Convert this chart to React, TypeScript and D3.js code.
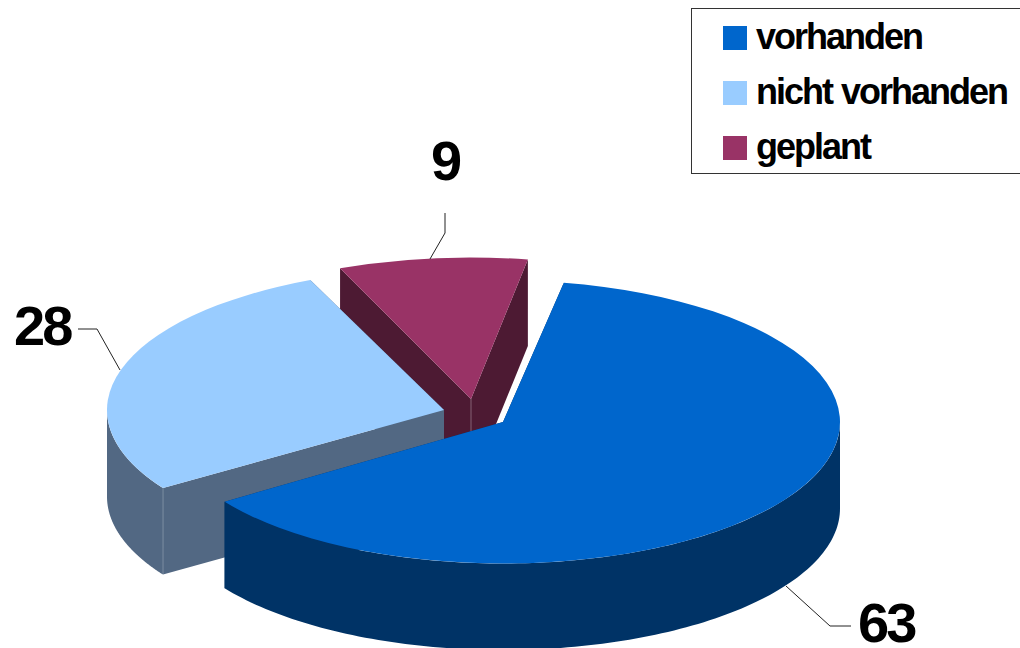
import React, { useEffect, useRef } from 'react';
import * as d3 from 'd3';

const categories = ['vorhanden', 'nicht vorhanden', 'geplant'];
const values = [63, 28, 9];

const topColors = ['#0066cc', '#99ccff', '#993366'];
const wallColors = ['#003366', '#526883', '#4d1a33'];

// each slice is pulled out of the pie, so each has its own centre
const centers = [
  { x: 503, y: 422 },
  { x: 444, y: 410 },
  { x: 471, y: 399 },
];
const radii = [337, 337, 341];

const width = 1020;
const height = 648;
const ry = 141.5;
const depth = 86.5;
const startDeg = 10.4;
const padDeg = 0.8;

const labelSpots = [
  { x: 858, y: 642, line: [[786, 586], [830, 626], [851, 626]] },
  { x: 14, y: 345, line: [[120, 370], [97, 329], [78, 329]] },
  { x: 431, y: 180, line: [[430, 259], [445, 233], [445, 213]] },
];

export default function App() {
  const ref = useRef<SVGSVGElement | null>(null);

  useEffect(() => {
    const svg = d3.select(ref.current);
    svg.selectAll('*').remove();

    const start = (startDeg * Math.PI) / 180;
    const arcs = d3.pie<number>()
      .sort(null)
      .padAngle((padDeg * Math.PI) / 180)
      .startAngle(start)
      .endAngle(start + 2 * Math.PI)(values);

    // back to front: purple, light blue, blue
    [2, 1, 0].forEach(i => {
      const a = arcs[i];
      const c = centers[i];
      const rx = radii[i];
      const t0 = a.startAngle;
      const t1 = a.endAngle - a.padAngle;
      const px = (t: number) => c.x + rx * Math.sin(t);
      const py = (t: number) => c.y - ry * Math.cos(t);
      const g = svg.append('g');

      // flat walls along both cuts
      [t0, t1].forEach(t => {
        g.append('path')
          .attr('fill', wallColors[i])
          .attr('d', d3.line()([
            [c.x, c.y],
            [px(t), py(t)],
            [px(t), py(t) + depth],
            [c.x, c.y + depth],
          ]) + 'Z');
      });

      // curved outer wall, only the part that faces the viewer
      const from = Math.max(t0, Math.PI / 2);
      const to = Math.min(t1, (3 * Math.PI) / 2);
      if (to > from) {
        const steps = d3.range(0, 121).map(k => from + (to - from) * k / 120);
        g.append('path')
          .attr('fill', wallColors[i])
          .attr('d', d3.area<number>()
            .x(t => px(t))
            .y0(t => py(t))
            .y1(t => py(t) + depth)(steps));
      }

      // thin seams where walls meet
      if (i === 2) {
        g.append('line')
          .attr('x1', c.x).attr('x2', c.x)
          .attr('y1', c.y).attr('y2', c.y + depth)
          .attr('stroke', '#ffffff').attr('stroke-opacity', 0.4).attr('stroke-width', 0.8);
      }
      if (i === 1) {
        g.append('line')
          .attr('x1', px(t0)).attr('x2', px(t0))
          .attr('y1', py(t0)).attr('y2', py(t0) + depth)
          .attr('stroke', '#ffffff').attr('stroke-opacity', 0.3).attr('stroke-width', 0.8);
      }

      // top face, squashed circle
      const arc = d3.arc<any>().innerRadius(0).outerRadius(rx);
      g.append('path')
        .attr('transform', `translate(${c.x},${c.y}) scale(1,${ry / rx})`)
        .attr('fill', topColors[i])
        .attr('d', arc({ startAngle: t0, endAngle: t1 }));
    });

    // leader lines and value labels
    values.forEach((v, i) => {
      const s = labelSpots[i];
      svg.append('path')
        .attr('fill', 'none')
        .attr('stroke', '#222222')
        .attr('stroke-width', 1)
        .attr('d', d3.line()(s.line as [number, number][]));
      svg.append('text')
        .attr('x', s.x)
        .attr('y', s.y)
        .attr('font-family', '"Liberation Sans", Arial, sans-serif')
        .attr('font-weight', 'bold')
        .attr('font-size', 56)
        .attr('letter-spacing', -3)
        .attr('fill', '#000000')
        .text(v);
    });

    // legend, its box runs off the right side
    svg.append('rect')
      .attr('x', 691.5)
      .attr('y', 8.5)
      .attr('width', 340)
      .attr('height', 165)
      .attr('fill', '#ffffff')
      .attr('stroke', '#333333')
      .attr('stroke-width', 1);

    const legendY = d3.scalePoint<string>().domain(categories).range([38, 148]);

    categories.forEach((name, i) => {
      const y = legendY(name) as number;
      svg.append('rect')
        .attr('x', 723)
        .attr('y', y - 12)
        .attr('width', 24)
        .attr('height', 24)
        .attr('fill', topColors[i]);
      svg.append('text')
        .attr('x', 756)
        .attr('y', y + 11)
        .attr('font-family', '"Liberation Sans", Arial, sans-serif')
        .attr('font-weight', 'bold')
        .attr('font-size', 36)
        .attr('letter-spacing', -2)
        .attr('word-spacing', 1)
        .attr('fill', '#000000')
        .text(name);
    });
  }, []);

  return (
    <svg
      ref={ref}
      width={width}
      height={height}
      viewBox={`0 0 ${width} ${height}`}
      style={{ position: 'absolute', left: 0, top: 0, display: 'block', background: '#ffffff' }}
    />
  );
}
